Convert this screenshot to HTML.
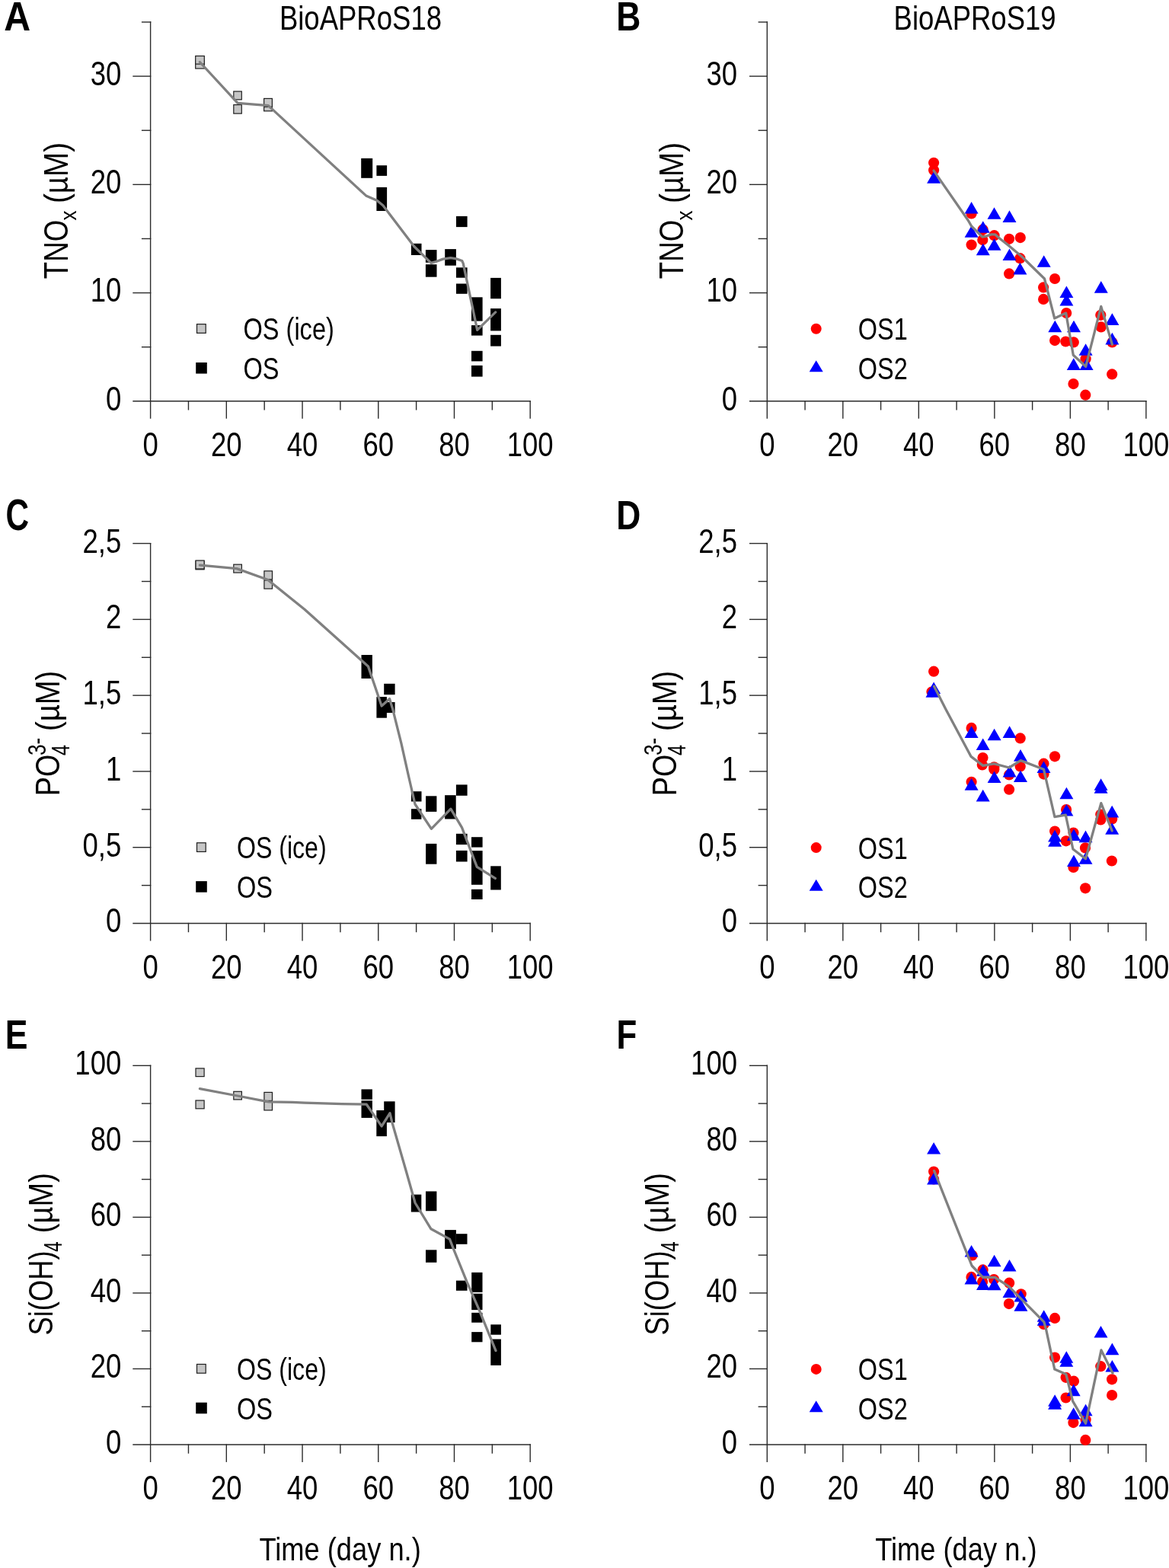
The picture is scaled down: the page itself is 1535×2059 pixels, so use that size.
<!DOCTYPE html><html><head><meta charset="utf-8"><title>Figure</title><style>html,body{margin:0;padding:0;background:#fff;}svg{display:block;}</style></head><body>
<svg width="1535" height="2059" viewBox="0 0 1535 2059" font-family="Liberation Sans, Arial, sans-serif">
<rect width="1535" height="2059" fill="#fff"/>
<g stroke="#2b2b2b" stroke-width="1.4" fill="none" stroke-linecap="square"><path d="M197.6 29V549" /><path d="M175 526.8H696.2" /><path d="M186.6 455.69H197.6" /><path d="M175 384.57H197.6" /><path d="M186.6 313.46H197.6" /><path d="M175 242.34H197.6" /><path d="M186.6 171.23H197.6" /><path d="M175 100.11H197.6" /><path d="M186.6 29H197.6" /><path d="M247.46 526.8V537.8" /><path d="M297.32 526.8V549" /><path d="M347.18 526.8V537.8" /><path d="M397.04 526.8V549" /><path d="M446.9 526.8V537.8" /><path d="M496.76 526.8V549" /><path d="M546.62 526.8V537.8" /><path d="M596.48 526.8V549" /><path d="M646.34 526.8V537.8" /><path d="M696.2 526.8V549" /></g>
<g font-size="44" fill="#000"><text transform="translate(159.3 538.7) scale(0.83 1.026)" text-anchor="end">0</text><text transform="translate(159.3 396.47) scale(0.83 1.026)" text-anchor="end">10</text><text transform="translate(159.3 254.24) scale(0.83 1.026)" text-anchor="end">20</text><text transform="translate(159.3 112.01) scale(0.83 1.026)" text-anchor="end">30</text><text transform="translate(197.6 599.1) scale(0.83 1.026)" text-anchor="middle">0</text><text transform="translate(297.32 599.1) scale(0.83 1.026)" text-anchor="middle">20</text><text transform="translate(397.04 599.1) scale(0.83 1.026)" text-anchor="middle">40</text><text transform="translate(496.76 599.1) scale(0.83 1.026)" text-anchor="middle">60</text><text transform="translate(596.48 599.1) scale(0.83 1.026)" text-anchor="middle">80</text><text transform="translate(696.2 599.1) scale(0.83 1.026)" text-anchor="middle">100</text></g>
<g stroke="#2b2b2b" stroke-width="1.4" fill="none" stroke-linecap="square"><path d="M1007.3 29V549" /><path d="M984.7 526.8H1504.9" /><path d="M996.3 455.69H1007.3" /><path d="M984.7 384.57H1007.3" /><path d="M996.3 313.46H1007.3" /><path d="M984.7 242.34H1007.3" /><path d="M996.3 171.23H1007.3" /><path d="M984.7 100.11H1007.3" /><path d="M996.3 29H1007.3" /><path d="M1057.06 526.8V537.8" /><path d="M1106.82 526.8V549" /><path d="M1156.58 526.8V537.8" /><path d="M1206.34 526.8V549" /><path d="M1256.1 526.8V537.8" /><path d="M1305.86 526.8V549" /><path d="M1355.62 526.8V537.8" /><path d="M1405.38 526.8V549" /><path d="M1455.14 526.8V537.8" /><path d="M1504.9 526.8V549" /></g>
<g font-size="44" fill="#000"><text transform="translate(968 538.7) scale(0.83 1.026)" text-anchor="end">0</text><text transform="translate(968 396.47) scale(0.83 1.026)" text-anchor="end">10</text><text transform="translate(968 254.24) scale(0.83 1.026)" text-anchor="end">20</text><text transform="translate(968 112.01) scale(0.83 1.026)" text-anchor="end">30</text><text transform="translate(1007.3 599.1) scale(0.83 1.026)" text-anchor="middle">0</text><text transform="translate(1106.82 599.1) scale(0.83 1.026)" text-anchor="middle">20</text><text transform="translate(1206.34 599.1) scale(0.83 1.026)" text-anchor="middle">40</text><text transform="translate(1305.86 599.1) scale(0.83 1.026)" text-anchor="middle">60</text><text transform="translate(1405.38 599.1) scale(0.83 1.026)" text-anchor="middle">80</text><text transform="translate(1504.9 599.1) scale(0.83 1.026)" text-anchor="middle">100</text></g>
<g stroke="#2b2b2b" stroke-width="1.4" fill="none" stroke-linecap="square"><path d="M197.6 713.6V1234.7" /><path d="M175 1212.5H696.2" /><path d="M186.6 1162.61H197.6" /><path d="M175 1112.72H197.6" /><path d="M186.6 1062.83H197.6" /><path d="M175 1012.94H197.6" /><path d="M186.6 963.05H197.6" /><path d="M175 913.16H197.6" /><path d="M186.6 863.27H197.6" /><path d="M175 813.38H197.6" /><path d="M186.6 763.49H197.6" /><path d="M175 713.6H197.6" /><path d="M247.46 1212.5V1223.5" /><path d="M297.32 1212.5V1234.7" /><path d="M347.18 1212.5V1223.5" /><path d="M397.04 1212.5V1234.7" /><path d="M446.9 1212.5V1223.5" /><path d="M496.76 1212.5V1234.7" /><path d="M546.62 1212.5V1223.5" /><path d="M596.48 1212.5V1234.7" /><path d="M646.34 1212.5V1223.5" /><path d="M696.2 1212.5V1234.7" /></g>
<g font-size="44" fill="#000"><text transform="translate(159.3 1224.4) scale(0.83 1.026)" text-anchor="end">0</text><text transform="translate(159.3 1124.62) scale(0.83 1.026)" text-anchor="end">0,5</text><text transform="translate(159.3 1024.84) scale(0.83 1.026)" text-anchor="end">1</text><text transform="translate(159.3 925.06) scale(0.83 1.026)" text-anchor="end">1,5</text><text transform="translate(159.3 825.28) scale(0.83 1.026)" text-anchor="end">2</text><text transform="translate(159.3 725.5) scale(0.83 1.026)" text-anchor="end">2,5</text><text transform="translate(197.6 1284.8) scale(0.83 1.026)" text-anchor="middle">0</text><text transform="translate(297.32 1284.8) scale(0.83 1.026)" text-anchor="middle">20</text><text transform="translate(397.04 1284.8) scale(0.83 1.026)" text-anchor="middle">40</text><text transform="translate(496.76 1284.8) scale(0.83 1.026)" text-anchor="middle">60</text><text transform="translate(596.48 1284.8) scale(0.83 1.026)" text-anchor="middle">80</text><text transform="translate(696.2 1284.8) scale(0.83 1.026)" text-anchor="middle">100</text></g>
<g stroke="#2b2b2b" stroke-width="1.4" fill="none" stroke-linecap="square"><path d="M1007.3 713.6V1234.7" /><path d="M984.7 1212.5H1504.9" /><path d="M996.3 1162.61H1007.3" /><path d="M984.7 1112.72H1007.3" /><path d="M996.3 1062.83H1007.3" /><path d="M984.7 1012.94H1007.3" /><path d="M996.3 963.05H1007.3" /><path d="M984.7 913.16H1007.3" /><path d="M996.3 863.27H1007.3" /><path d="M984.7 813.38H1007.3" /><path d="M996.3 763.49H1007.3" /><path d="M984.7 713.6H1007.3" /><path d="M1057.06 1212.5V1223.5" /><path d="M1106.82 1212.5V1234.7" /><path d="M1156.58 1212.5V1223.5" /><path d="M1206.34 1212.5V1234.7" /><path d="M1256.1 1212.5V1223.5" /><path d="M1305.86 1212.5V1234.7" /><path d="M1355.62 1212.5V1223.5" /><path d="M1405.38 1212.5V1234.7" /><path d="M1455.14 1212.5V1223.5" /><path d="M1504.9 1212.5V1234.7" /></g>
<g font-size="44" fill="#000"><text transform="translate(968 1224.4) scale(0.83 1.026)" text-anchor="end">0</text><text transform="translate(968 1124.62) scale(0.83 1.026)" text-anchor="end">0,5</text><text transform="translate(968 1024.84) scale(0.83 1.026)" text-anchor="end">1</text><text transform="translate(968 925.06) scale(0.83 1.026)" text-anchor="end">1,5</text><text transform="translate(968 825.28) scale(0.83 1.026)" text-anchor="end">2</text><text transform="translate(968 725.5) scale(0.83 1.026)" text-anchor="end">2,5</text><text transform="translate(1007.3 1284.8) scale(0.83 1.026)" text-anchor="middle">0</text><text transform="translate(1106.82 1284.8) scale(0.83 1.026)" text-anchor="middle">20</text><text transform="translate(1206.34 1284.8) scale(0.83 1.026)" text-anchor="middle">40</text><text transform="translate(1305.86 1284.8) scale(0.83 1.026)" text-anchor="middle">60</text><text transform="translate(1405.38 1284.8) scale(0.83 1.026)" text-anchor="middle">80</text><text transform="translate(1504.9 1284.8) scale(0.83 1.026)" text-anchor="middle">100</text></g>
<g stroke="#2b2b2b" stroke-width="1.4" fill="none" stroke-linecap="square"><path d="M197.6 1399.3V1919.2" /><path d="M175 1897H696.2" /><path d="M186.6 1847.23H197.6" /><path d="M175 1797.46H197.6" /><path d="M186.6 1747.69H197.6" /><path d="M175 1697.92H197.6" /><path d="M186.6 1648.15H197.6" /><path d="M175 1598.38H197.6" /><path d="M186.6 1548.61H197.6" /><path d="M175 1498.84H197.6" /><path d="M186.6 1449.07H197.6" /><path d="M175 1399.3H197.6" /><path d="M247.46 1897V1908" /><path d="M297.32 1897V1919.2" /><path d="M347.18 1897V1908" /><path d="M397.04 1897V1919.2" /><path d="M446.9 1897V1908" /><path d="M496.76 1897V1919.2" /><path d="M546.62 1897V1908" /><path d="M596.48 1897V1919.2" /><path d="M646.34 1897V1908" /><path d="M696.2 1897V1919.2" /></g>
<g font-size="44" fill="#000"><text transform="translate(159.3 1908.9) scale(0.83 1.026)" text-anchor="end">0</text><text transform="translate(159.3 1809.36) scale(0.83 1.026)" text-anchor="end">20</text><text transform="translate(159.3 1709.82) scale(0.83 1.026)" text-anchor="end">40</text><text transform="translate(159.3 1610.28) scale(0.83 1.026)" text-anchor="end">60</text><text transform="translate(159.3 1510.74) scale(0.83 1.026)" text-anchor="end">80</text><text transform="translate(159.3 1411.2) scale(0.83 1.026)" text-anchor="end">100</text><text transform="translate(197.6 1969.3) scale(0.83 1.026)" text-anchor="middle">0</text><text transform="translate(297.32 1969.3) scale(0.83 1.026)" text-anchor="middle">20</text><text transform="translate(397.04 1969.3) scale(0.83 1.026)" text-anchor="middle">40</text><text transform="translate(496.76 1969.3) scale(0.83 1.026)" text-anchor="middle">60</text><text transform="translate(596.48 1969.3) scale(0.83 1.026)" text-anchor="middle">80</text><text transform="translate(696.2 1969.3) scale(0.83 1.026)" text-anchor="middle">100</text></g>
<g stroke="#2b2b2b" stroke-width="1.4" fill="none" stroke-linecap="square"><path d="M1007.3 1399.3V1919.2" /><path d="M984.7 1897H1504.9" /><path d="M996.3 1847.23H1007.3" /><path d="M984.7 1797.46H1007.3" /><path d="M996.3 1747.69H1007.3" /><path d="M984.7 1697.92H1007.3" /><path d="M996.3 1648.15H1007.3" /><path d="M984.7 1598.38H1007.3" /><path d="M996.3 1548.61H1007.3" /><path d="M984.7 1498.84H1007.3" /><path d="M996.3 1449.07H1007.3" /><path d="M984.7 1399.3H1007.3" /><path d="M1057.06 1897V1908" /><path d="M1106.82 1897V1919.2" /><path d="M1156.58 1897V1908" /><path d="M1206.34 1897V1919.2" /><path d="M1256.1 1897V1908" /><path d="M1305.86 1897V1919.2" /><path d="M1355.62 1897V1908" /><path d="M1405.38 1897V1919.2" /><path d="M1455.14 1897V1908" /><path d="M1504.9 1897V1919.2" /></g>
<g font-size="44" fill="#000"><text transform="translate(968 1908.9) scale(0.83 1.026)" text-anchor="end">0</text><text transform="translate(968 1809.36) scale(0.83 1.026)" text-anchor="end">20</text><text transform="translate(968 1709.82) scale(0.83 1.026)" text-anchor="end">40</text><text transform="translate(968 1610.28) scale(0.83 1.026)" text-anchor="end">60</text><text transform="translate(968 1510.74) scale(0.83 1.026)" text-anchor="end">80</text><text transform="translate(968 1411.2) scale(0.83 1.026)" text-anchor="end">100</text><text transform="translate(1007.3 1969.3) scale(0.83 1.026)" text-anchor="middle">0</text><text transform="translate(1106.82 1969.3) scale(0.83 1.026)" text-anchor="middle">20</text><text transform="translate(1206.34 1969.3) scale(0.83 1.026)" text-anchor="middle">40</text><text transform="translate(1305.86 1969.3) scale(0.83 1.026)" text-anchor="middle">60</text><text transform="translate(1405.38 1969.3) scale(0.83 1.026)" text-anchor="middle">80</text><text transform="translate(1504.9 1969.3) scale(0.83 1.026)" text-anchor="middle">100</text></g>
<g fill="#c6c6c6" stroke="#1e1e1e" stroke-width="1.2"><rect x="256.7" y="79.3" width="11.6" height="10.7"/><rect x="256.7" y="73.5" width="11.6" height="10.6"/><rect x="306.8" y="137.6" width="10.5" height="11.5"/><rect x="306.8" y="120" width="10.5" height="10.8"/><rect x="346.6" y="135" width="10.8" height="10.8"/><rect x="346.6" y="129.4" width="10.8" height="10.9"/></g>
<g fill="#c6c6c6" stroke="#1e1e1e" stroke-width="1.2"><rect x="257" y="736.8" width="11.1" height="11"/><rect x="257" y="736" width="11.1" height="11"/><rect x="306.8" y="741.2" width="10.6" height="10.8"/><rect x="346.9" y="762" width="10.6" height="11.1"/><rect x="346.9" y="749.8" width="10.6" height="11.1"/></g>
<g fill="#c6c6c6" stroke="#1e1e1e" stroke-width="1.2"><rect x="257" y="1402.9" width="11.1" height="10.7"/><rect x="257" y="1445" width="11.1" height="10.8"/><rect x="306.8" y="1433.3" width="10.6" height="10.6"/><rect x="346.9" y="1446.9" width="10.6" height="11"/><rect x="346.9" y="1434.4" width="10.6" height="11"/></g>
<g fill="#000"><rect x="474.2" y="207.9" width="15" height="25.9"/><rect x="494.4" y="217.2" width="13.7" height="13.7"/><rect x="494.4" y="245.9" width="13.7" height="31.1"/><rect x="539.9" y="319.8" width="13.6" height="15.2"/><rect x="558.9" y="328.1" width="14.6" height="16.7"/><rect x="558.9" y="347.2" width="14.6" height="16.5"/><rect x="584.2" y="327.1" width="14.7" height="21.6"/><rect x="599" y="283.9" width="14.6" height="14.2"/><rect x="599" y="351.3" width="14.6" height="13.4"/><rect x="599" y="372.5" width="14.6" height="13.3"/><rect x="619" y="390.3" width="14.6" height="31.3"/><rect x="619" y="427.1" width="14.6" height="13.5"/><rect x="619" y="460.8" width="14.6" height="13.6"/><rect x="619" y="479.9" width="14.6" height="14.7"/><rect x="644.1" y="364.9" width="13.8" height="27.3"/><rect x="644.1" y="405.1" width="13.8" height="29.3"/><rect x="644.1" y="439.8" width="13.8" height="14.8"/></g>
<g fill="#000"><rect x="474.5" y="860" width="14.4" height="31"/><rect x="504.2" y="897.8" width="14.4" height="14.4"/><rect x="494.4" y="915.1" width="13.5" height="27.6"/><rect x="504.2" y="922" width="14.4" height="14"/><rect x="539.9" y="1039.2" width="13.6" height="13.3"/><rect x="540" y="1062.2" width="13.4" height="13.6"/><rect x="559.1" y="1045.3" width="14.3" height="20.6"/><rect x="559.1" y="1107.9" width="14.3" height="26.8"/><rect x="584.1" y="1044.2" width="14.6" height="31.3"/><rect x="598.9" y="1030.4" width="14.7" height="14.4"/><rect x="598.9" y="1094.8" width="14.7" height="14.3"/><rect x="598.9" y="1116.9" width="14.7" height="14.6"/><rect x="619" y="1099.2" width="14.6" height="13.4"/><rect x="619" y="1117.1" width="14.6" height="44.7"/><rect x="619" y="1167.8" width="14.6" height="13.2"/><rect x="644.2" y="1137.3" width="13.6" height="31.2"/></g>
<g fill="#000"><rect x="474.5" y="1430.4" width="14.4" height="13.4"/><rect x="474.5" y="1445.2" width="14.4" height="22.7"/><rect x="494.3" y="1458" width="13.6" height="34.1"/><rect x="504.2" y="1446.3" width="14.4" height="27.7"/><rect x="539.8" y="1568.6" width="13.5" height="22.9"/><rect x="559" y="1564.4" width="14.4" height="25.8"/><rect x="559" y="1641.3" width="14.4" height="16.5"/><rect x="584.1" y="1615.1" width="14.8" height="24.8"/><rect x="598.9" y="1620.2" width="14.6" height="13.6"/><rect x="598.9" y="1681.6" width="14.6" height="13.2"/><rect x="619.2" y="1670.9" width="14.3" height="26"/><rect x="619.2" y="1698.7" width="14.3" height="21.4"/><rect x="619.2" y="1723.8" width="14.3" height="12.9"/><rect x="619.2" y="1749.1" width="14.3" height="13.2"/><rect x="644.3" y="1739.3" width="13.6" height="13.4"/><rect x="644.3" y="1758.5" width="13.6" height="34.4"/></g>
<g fill="#ff0000"><circle cx="1226.1" cy="213.8" r="7.1"/><circle cx="1226.1" cy="223.6" r="7.1"/><circle cx="1275.6" cy="280.5" r="7.1"/><circle cx="1275.6" cy="321.6" r="7.1"/><circle cx="1290.6" cy="301.4" r="7.1"/><circle cx="1290.3" cy="315.1" r="7.1"/><circle cx="1305.5" cy="309.2" r="7.1"/><circle cx="1325.1" cy="313.8" r="7.1"/><circle cx="1325.1" cy="359.4" r="7.1"/><circle cx="1339.8" cy="312.1" r="7.1"/><circle cx="1339.4" cy="339.2" r="7.1"/><circle cx="1370.1" cy="377.4" r="7.1"/><circle cx="1370.1" cy="392.9" r="7.1"/><circle cx="1385.1" cy="366" r="7.1"/><circle cx="1385.1" cy="447.1" r="7.1"/><circle cx="1400.2" cy="411.1" r="7.1"/><circle cx="1399.3" cy="448.5" r="7.1"/><circle cx="1409.8" cy="449.4" r="7.1"/><circle cx="1409.5" cy="504.1" r="7.1"/><circle cx="1425.6" cy="471.3" r="7.1"/><circle cx="1425.3" cy="518.7" r="7.1"/><circle cx="1445.3" cy="413.8" r="7.1"/><circle cx="1445.8" cy="429.4" r="7.1"/><circle cx="1460.4" cy="449.5" r="7.1"/><circle cx="1460.2" cy="491.4" r="7.1"/></g>
<path fill="#0000ff" d="M1226.1 225.2L1235.1 240.8L1217.1 240.8ZM1275.6 265L1284.6 280.6L1266.6 280.6ZM1275.6 296.2L1284.6 311.8L1266.6 311.8ZM1290.8 290.2L1299.8 305.8L1281.8 305.8ZM1290.8 319.7L1299.8 335.3L1281.8 335.3ZM1305.5 272.2L1314.5 287.8L1296.5 287.8ZM1305.5 313.2L1314.5 328.8L1296.5 328.8ZM1325.5 276.3L1334.5 291.9L1316.5 291.9ZM1325.5 326.5L1334.5 342.1L1316.5 342.1ZM1339.4 344.8L1348.4 360.4L1330.4 360.4ZM1370.7 335.2L1379.7 350.8L1361.7 350.8ZM1385.3 420.7L1394.3 436.3L1376.3 436.3ZM1400.4 375.4L1409.4 391L1391.4 391ZM1400.4 385.9L1409.4 401.5L1391.4 401.5ZM1410 420.7L1419 436.3L1401 436.3ZM1409.8 470.3L1418.8 485.9L1400.8 485.9ZM1425.6 451.2L1434.6 466.8L1416.6 466.8ZM1426.6 470.3L1435.6 485.9L1417.6 485.9ZM1445.8 369.1L1454.8 384.7L1436.8 384.7ZM1460.4 411.3L1469.4 426.9L1451.4 426.9ZM1460.4 436.8L1469.4 452.4L1451.4 452.4Z"/>
<g fill="#ff0000"><circle cx="1226.1" cy="881.7" r="7.1"/><circle cx="1223.5" cy="908.5" r="7.1"/><circle cx="1275.6" cy="955.9" r="7.1"/><circle cx="1275.6" cy="1026.8" r="7.1"/><circle cx="1290.5" cy="995" r="7.1"/><circle cx="1289.8" cy="1004.4" r="7.1"/><circle cx="1305.3" cy="1010.3" r="7.1"/><circle cx="1305.3" cy="1007.3" r="7.1"/><circle cx="1325.1" cy="1017.4" r="7.1"/><circle cx="1325.1" cy="1036.7" r="7.1"/><circle cx="1339.7" cy="969.4" r="7.1"/><circle cx="1339.7" cy="1006.4" r="7.1"/><circle cx="1370.5" cy="1002.7" r="7.1"/><circle cx="1370.5" cy="1016.6" r="7.1"/><circle cx="1385.1" cy="993.3" r="7.1"/><circle cx="1385.1" cy="1091.5" r="7.1"/><circle cx="1400.1" cy="1063.1" r="7.1"/><circle cx="1399.8" cy="1104.3" r="7.1"/><circle cx="1409.5" cy="1093.6" r="7.1"/><circle cx="1409.5" cy="1139" r="7.1"/><circle cx="1425" cy="1113.4" r="7.1"/><circle cx="1425.2" cy="1166.3" r="7.1"/><circle cx="1445.3" cy="1069.5" r="7.1"/><circle cx="1445.3" cy="1076.5" r="7.1"/><circle cx="1460.2" cy="1075.4" r="7.1"/><circle cx="1459.9" cy="1130.5" r="7.1"/></g>
<path fill="#0000ff" d="M1226.1 895.4L1235.1 911L1217.1 911ZM1224.5 900.2L1233.5 915.8L1215.5 915.8ZM1275.6 953.3L1284.6 968.9L1266.6 968.9ZM1275.6 1022.1L1284.6 1037.7L1266.6 1037.7ZM1290.7 969.4L1299.7 985L1281.7 985ZM1290.7 1036.8L1299.7 1052.4L1281.7 1052.4ZM1305.6 956.7L1314.6 972.3L1296.6 972.3ZM1305.6 1012.5L1314.6 1028.1L1296.6 1028.1ZM1325.6 953.3L1334.6 968.9L1316.6 968.9ZM1325.6 1004.9L1334.6 1020.5L1316.6 1020.5ZM1340 984.1L1349 999.7L1331 999.7ZM1340 1011.4L1349 1027L1331 1027ZM1370.5 999.5L1379.5 1015.1L1361.5 1015.1ZM1385.1 1089.8L1394.1 1105.4L1376.1 1105.4ZM1385.1 1096.2L1394.1 1111.8L1376.1 1111.8ZM1400.4 1033.7L1409.4 1049.3L1391.4 1049.3ZM1400.4 1055.9L1409.4 1071.5L1391.4 1071.5ZM1410 1088.4L1419 1104L1401 1104ZM1410 1122.4L1419 1138L1401 1138ZM1425.5 1090.6L1434.5 1106.2L1416.5 1106.2ZM1425.5 1119.2L1434.5 1134.8L1416.5 1134.8ZM1445.6 1022.2L1454.6 1037.8L1436.6 1037.8ZM1445.6 1026.2L1454.6 1041.8L1436.6 1041.8ZM1460.2 1057.8L1469.2 1073.4L1451.2 1073.4ZM1460.2 1080.2L1469.2 1095.8L1451.2 1095.8Z"/>
<g fill="#ff0000"><circle cx="1226.1" cy="1538.5" r="7.1"/><circle cx="1226.1" cy="1548.4" r="7.1"/><circle cx="1276.6" cy="1648.4" r="7.1"/><circle cx="1275.5" cy="1676.9" r="7.1"/><circle cx="1290.6" cy="1667.4" r="7.1"/><circle cx="1290.1" cy="1682.9" r="7.1"/><circle cx="1305.1" cy="1680.1" r="7.1"/><circle cx="1325.2" cy="1684.7" r="7.1"/><circle cx="1324.9" cy="1712.1" r="7.1"/><circle cx="1340.7" cy="1699.3" r="7.1"/><circle cx="1370.5" cy="1739" r="7.1"/><circle cx="1385.1" cy="1730.9" r="7.1"/><circle cx="1385.1" cy="1782.6" r="7.1"/><circle cx="1399.6" cy="1808.8" r="7.1"/><circle cx="1399.6" cy="1835.5" r="7.1"/><circle cx="1410" cy="1813.7" r="7.1"/><circle cx="1409.4" cy="1868.1" r="7.1"/><circle cx="1425.6" cy="1864.2" r="7.1"/><circle cx="1425.3" cy="1890.9" r="7.1"/><circle cx="1445.3" cy="1794.2" r="7.1"/><circle cx="1460.1" cy="1811.3" r="7.1"/><circle cx="1460.1" cy="1832.1" r="7.1"/></g>
<path fill="#0000ff" d="M1226.1 1499.9L1235.1 1515.5L1217.1 1515.5ZM1226.1 1539.8L1235.1 1555.4L1217.1 1555.4ZM1275.6 1634.9L1284.6 1650.5L1266.6 1650.5ZM1275.5 1671L1284.5 1686.6L1266.5 1686.6ZM1291 1660.2L1300 1675.8L1282 1675.8ZM1291 1678.5L1300 1694.1L1282 1694.1ZM1305.6 1647.7L1314.6 1663.3L1296.6 1663.3ZM1305.6 1678.7L1314.6 1694.3L1296.6 1694.3ZM1325.5 1653.9L1334.5 1669.5L1316.5 1669.5ZM1325.5 1688.5L1334.5 1704.1L1316.5 1704.1ZM1340.4 1694L1349.4 1709.6L1331.4 1709.6ZM1340.4 1706.1L1349.4 1721.7L1331.4 1721.7ZM1370.7 1720.2L1379.7 1735.8L1361.7 1735.8ZM1370.7 1725.2L1379.7 1740.8L1361.7 1740.8ZM1385.1 1831.2L1394.1 1846.8L1376.1 1846.8ZM1385.1 1835.2L1394.1 1850.8L1376.1 1850.8ZM1400.3 1774.2L1409.3 1789.8L1391.3 1789.8ZM1400.3 1779.2L1409.3 1794.8L1391.3 1794.8ZM1409.7 1817.6L1418.7 1833.2L1400.7 1833.2ZM1409.7 1848.2L1418.7 1863.8L1400.7 1863.8ZM1425.6 1843.7L1434.6 1859.3L1416.6 1859.3ZM1425.6 1857.6L1434.6 1873.2L1416.6 1873.2ZM1445.5 1741L1454.5 1756.6L1436.5 1756.6ZM1460.4 1763.6L1469.4 1779.2L1451.4 1779.2ZM1460.4 1785.9L1469.4 1801.5L1451.4 1801.5Z"/>
<path d="M262.4 81.5 L312.1 135.3 L352.3 138.6 L480.6 256.9 L495 263.3 L502.9 269.8 L543.7 323.5 L566 345.4 L574 343 L581.8 340.1 L591.6 338.6 L598.4 339.6 L606.7 342.5 L608.2 345.9 L626.7 433.4 L650.7 409.9" fill="none" stroke="#808080" stroke-width="3.3" stroke-linejoin="round" stroke-linecap="round"/>
<path d="M262.4 742.1 L310.9 746.6 L351.5 761.2 L400 800.3 L475 867.6 L483.4 874.9 L501.1 927 L511.5 917.6 L515.4 930.2 L526.9 976.1 L536.7 1020 L545 1056 L566.4 1088.3 L591.9 1062.2 L606.5 1086.7 L626.3 1138.3 L650.3 1153.4" fill="none" stroke="#808080" stroke-width="3.3" stroke-linejoin="round" stroke-linecap="round"/>
<path d="M262.4 1429.6 L311.9 1439 L352.6 1446.8 L383.8 1447.3 L400 1448.1 L416.7 1448.7 L449 1449.6 L481.3 1450.2 L501.1 1478.9 L512 1461.7 L514.7 1473.2 L533.9 1540 L545.1 1579.5 L566 1613.8 L590.5 1627.1 L594.8 1638.3 L613 1683.2 L629 1719.6 L651 1773.6" fill="none" stroke="#808080" stroke-width="3.3" stroke-linejoin="round" stroke-linecap="round"/>
<path d="M1226.1 224.1 L1271 289 L1275.6 296.8 L1289.9 311.2 L1293.8 310.5 L1301.6 307.9 L1306.8 307.9 L1313.4 313.8 L1325.1 322.9 L1338.8 334.6 L1343.3 338.5 L1371.5 366 L1384.7 418 L1399.7 411.1 L1409.3 466.3 L1425.7 481.3 L1445.8 402.4 L1460.4 452.2" fill="none" stroke="#808080" stroke-width="3.3" stroke-linejoin="round" stroke-linecap="round"/>
<path d="M1226.6 901.2 L1241.7 930.9 L1275 993.4 L1290.7 1005.4 L1305.3 1002.8 L1325.1 1008 L1340.2 998.6 L1370.5 1010.2 L1384.9 1072.7 L1399.3 1070.1 L1408.9 1115 L1425.5 1127.8 L1445.8 1054.6 L1460.2 1090.9" fill="none" stroke="#808080" stroke-width="3.3" stroke-linejoin="round" stroke-linecap="round"/>
<path d="M1226.6 1537.4 L1276.1 1662 L1290.7 1677.4 L1306.5 1677.4 L1324.8 1689.3 L1370.8 1735.8 L1373.6 1745.7 L1384.8 1798.1 L1399.8 1804.5 L1408.6 1839.9 L1425.6 1869.1 L1446 1772.9 L1461 1803" fill="none" stroke="#808080" stroke-width="3.3" stroke-linejoin="round" stroke-linecap="round"/>
<rect x="258.5" y="425.65" width="11.7" height="11.7" fill="#c6c6c6" stroke="#1e1e1e" stroke-width="1.2"/>
<rect x="257.2" y="476" width="14.6" height="14.6" fill="#000"/>
<rect x="258.5" y="1106.75" width="11.7" height="11.7" fill="#c6c6c6" stroke="#1e1e1e" stroke-width="1.2"/>
<rect x="257.2" y="1157.1" width="14.6" height="14.6" fill="#000"/>
<rect x="258.5" y="1791.45" width="11.7" height="11.7" fill="#c6c6c6" stroke="#1e1e1e" stroke-width="1.2"/>
<rect x="257.2" y="1841.7" width="14.6" height="14.6" fill="#000"/>
<circle cx="1071.7" cy="431.7" r="7" fill="#ff0000"/>
<path fill="#0000ff" d="M1071.7 473.3L1080.7 488.3L1062.7 488.3Z"/>
<circle cx="1071.7" cy="1113.1" r="7" fill="#ff0000"/>
<path fill="#0000ff" d="M1071.7 1154.75L1080.7 1169.75L1062.7 1169.75Z"/>
<circle cx="1071.7" cy="1797.9" r="7" fill="#ff0000"/>
<path fill="#0000ff" d="M1071.7 1839.35L1080.7 1854.35L1062.7 1854.35Z"/>
<text transform="translate(5.18 39.9) scale(0.9114 1.0257)" font-size="53" font-weight="bold">A</text>
<text transform="translate(809.35 39.9) scale(0.8375 1.0257)" font-size="53" font-weight="bold">B</text>
<text transform="translate(7.41 695.9) scale(0.7971 1.0757)" font-size="53" font-weight="bold">C</text>
<text transform="translate(809.35 694.8) scale(0.8375 1.0162)" font-size="53" font-weight="bold">D</text>
<text transform="translate(6.83 1376.5) scale(0.8414 1.0297)" font-size="53" font-weight="bold">E</text>
<text transform="translate(809.59 1376.5) scale(0.8269 1.0297)" font-size="53" font-weight="bold">F</text>
<text transform="translate(366.88 38.8) scale(0.8303 0.9937)" font-size="44">BioAPRoS18</text>
<text transform="translate(1173.58 38.8) scale(0.8295 0.9937)" font-size="44">BioAPRoS19</text>
<text transform="translate(340.38 2049.4) scale(0.8248 0.9781)" font-size="44">Time (day n.)</text>
<text transform="translate(1149.18 2049.4) scale(0.8248 0.9781)" font-size="44">Time (day n.)</text>
<text transform="translate(319.52 446.2) scale(0.7395 0.9129)" font-size="44">OS (ice)</text>
<text transform="translate(319.52 498.2) scale(0.7400 0.9258)" font-size="44">OS</text>
<text transform="translate(310.94 1127.3) scale(0.7299 0.9258)" font-size="44">OS (ice)</text>
<text transform="translate(310.92 1178.9) scale(0.7400 0.9032)" font-size="44">OS</text>
<text transform="translate(310.94 1811.9) scale(0.7299 0.9129)" font-size="44">OS (ice)</text>
<text transform="translate(310.92 1863.5) scale(0.7400 0.9129)" font-size="44">OS</text>
<text transform="translate(1126.83 446.1) scale(0.7367 0.9194)" font-size="44">OS1</text>
<text transform="translate(1126.83 497.7) scale(0.7367 0.9194)" font-size="44">OS2</text>
<text transform="translate(1126.83 1127.5) scale(0.7367 0.9258)" font-size="44">OS1</text>
<text transform="translate(1126.83 1179.1) scale(0.7367 0.9194)" font-size="44">OS2</text>
<text transform="translate(1126.83 1812.2) scale(0.7367 0.9194)" font-size="44">OS1</text>
<text transform="translate(1126.83 1863.8) scale(0.7367 0.9194)" font-size="44">OS2</text>
<text transform="rotate(-90) translate(-366.23 88.5) scale(0.8333 1.0226)" font-size="44">TNO</text>
<text transform="rotate(-90) translate(-289.49 100.2) scale(0.5900 0.6583)" font-size="44">x</text>
<text transform="rotate(-90) translate(-267.03 88.6) scale(0.8779 1.0161)" font-size="44">(µM)</text>
<text transform="rotate(-90) translate(-366.23 897) scale(0.8333 1.0226)" font-size="44">TNO</text>
<text transform="rotate(-90) translate(-289.49 908.7) scale(0.5900 0.6583)" font-size="44">x</text>
<text transform="rotate(-90) translate(-267.03 897.1) scale(0.8779 1.0161)" font-size="44">(µM)</text>
<text transform="rotate(-90) translate(-1045.22 78.1) scale(0.8561 1.0258)" font-size="44">PO</text>
<text transform="rotate(-90) translate(-991.99 59.6) scale(0.5971 0.7355)" font-size="44">3-</text>
<text transform="rotate(-90) translate(-992.07 90.7) scale(0.5727 0.7581)" font-size="44">4</text>
<text transform="rotate(-90) translate(-960.11 78.2) scale(0.8698 1.0258)" font-size="44">(µM)</text>
<text transform="rotate(-90) translate(-1045.22 887.8) scale(0.8561 1.0258)" font-size="44">PO</text>
<text transform="rotate(-90) translate(-991.99 869.3) scale(0.5971 0.7355)" font-size="44">3-</text>
<text transform="rotate(-90) translate(-992.07 900.4) scale(0.5727 0.7581)" font-size="44">4</text>
<text transform="rotate(-90) translate(-960.11 887.9) scale(0.8698 1.0258)" font-size="44">(µM)</text>
<text transform="rotate(-90) translate(-1753.45 68.5) scale(0.8262 1.0194)" font-size="44">Si(OH)</text>
<text transform="rotate(-90) translate(-1643.65 81.2) scale(0.5455 0.7355)" font-size="44">4</text>
<text transform="rotate(-90) translate(-1619.2 68.5) scale(0.8663 1.0194)" font-size="44">(µM)</text>
<text transform="rotate(-90) translate(-1753.45 878.2) scale(0.8262 1.0194)" font-size="44">Si(OH)</text>
<text transform="rotate(-90) translate(-1643.65 890.9) scale(0.5455 0.7355)" font-size="44">4</text>
<text transform="rotate(-90) translate(-1619.2 878.2) scale(0.8663 1.0194)" font-size="44">(µM)</text>
</svg></body></html>
